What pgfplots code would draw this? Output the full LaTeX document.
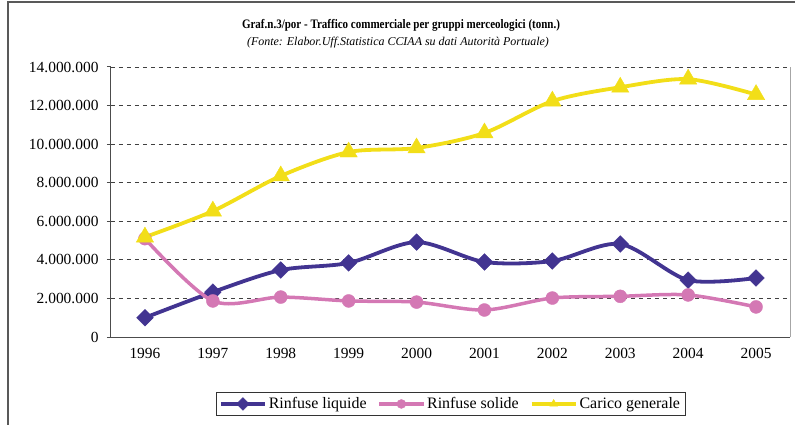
\documentclass[border=0pt]{standalone}
\usepackage{pgfplots}
\pgfplotsset{compat=1.18}
\usepackage{fontspec}
\setmainfont{Liberation Serif}
\definecolor{cblue}{RGB}{66,52,145}
\definecolor{cpink}{RGB}{212,120,180}
\definecolor{cyel}{RGB}{242,222,24}
\begin{document}
\begin{tikzpicture}
\useasboundingbox (-111bp,-88bp) rectangle (684bp,337bp);
\draw[gray!70!black, line width=1.5bp] (-103bp,-88bp) -- (-103bp,335bp) -- (684bp,335bp);
\node[font=\fontsize{13}{14}\selectfont\bfseries] at (290bp,312bp) {\scalebox{0.85}[1]{Graf.n.3/por - Traffico commerciale per gruppi merceologici (tonn.)}};
\node[font=\fontsize{12}{14}\selectfont\itshape] at (287bp,294bp) {(Fonte: Elabor.Uff.Statistica CCIAA su dati Autorità Portuale)};
\begin{axis}[
  at={(0,0)}, anchor=south west,
  scale only axis, width=679bp, height=270bp,
  xmin=-0.5, xmax=9.5, ymin=0, ymax=14000000,
  axis x line*=bottom, axis y line*=left,
  axis line style={gray!60!black, line width=1bp},
  xtick={0,...,9},
  xticklabels={1996,1997,1998,1999,2000,2001,2002,2003,2004,2005},
  major x tick style={draw=none},
  extra x ticks={-0.5,0.5,1.5,2.5,3.5,4.5,5.5,6.5,7.5,8.5,9.5},
  extra x tick labels={},
  extra x tick style={major tick length=6bp, tick align=outside, tick style={gray!60!black, line width=1bp}},
  ytick={0,2000000,4000000,6000000,8000000,10000000,12000000,14000000},
  yticklabels={0,2.000.000,4.000.000,6.000.000,8.000.000,10.000.000,12.000.000,14.000.000},
  tick align=outside, major tick length=4bp,
  tick style={gray!60!black, line width=1bp},
  ymajorgrids, major grid style={black!75, line width=0.8bp, dash pattern=on 4bp off 4bp},
  tick label style={font=\fontsize{15.5}{18}\selectfont},
  yticklabel style={xshift=-5bp},
  xticklabel style={yshift=-4bp},
  scaled y ticks=false,
  clip=false,
  legend columns=3,
  legend cell align=left,
  legend style={at={(axis description cs:0.5,-0.248)}, anchor=center, draw=black!80, line width=0.8bp, font=\fontsize{16}{18}\selectfont, inner xsep=3bp, inner ysep=3bp, /tikz/every even column/.append style={column sep=9bp}},
  legend image code/.code={\draw[#1,mark repeat=2,mark phase=2,mark size=4.5bp] plot coordinates {(0bp,0bp)(22bp,0bp)(44bp,0bp)};},
]
\addplot[cblue, line width=3.8bp, smooth, tension=0.5, mark=square*, mark size=5.9bp, mark options={rotate=45, line width=0.4bp, fill=cblue}] coordinates {
(0,1000000)(1,2330000)(2,3470000)(3,3840000)(4,4920000)(5,3890000)(6,3940000)(7,4820000)(8,2950000)(9,3060000)};
\addlegendentry{Rinfuse liquide}
\addplot[cpink, line width=3.5bp, smooth, tension=0.5, mark=*, mark size=6.5bp, mark options={line width=0.4bp, fill=cpink}] coordinates {
(0,5100000)(1,1870000)(2,2070000)(3,1870000)(4,1810000)(5,1400000)(6,2020000)(7,2110000)(8,2180000)(9,1560000)};
\addlegendentry{Rinfuse solide}
\addplot[cyel, line width=3.8bp, smooth, tension=0.5, mark=triangle*, mark size=10bp, mark options={line width=0.4bp, fill=cyel}] coordinates {
(0,5180000)(1,6530000)(2,8350000)(3,9590000)(4,9800000)(5,10580000)(6,12230000)(7,12950000)(8,13370000)(9,12570000)};
\addlegendentry{Carico generale}
\draw[gray!70, line width=1bp] (axis description cs:1,0) -- (axis description cs:1,1);
\end{axis}
\end{tikzpicture}
\end{document}
